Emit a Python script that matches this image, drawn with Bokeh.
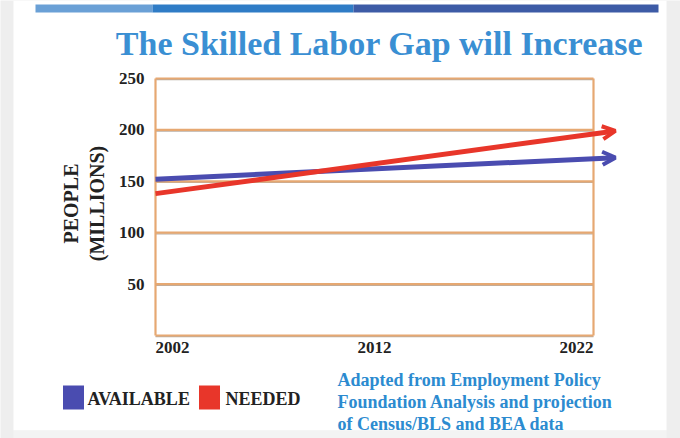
import math
from bokeh.plotting import figure
from bokeh.models import Range1d, Arrow, OpenHead
from bokeh.core.properties import value
from bokeh.embed import file_html
from bokeh.resources import INLINE

# ---------------- data ----------------
title = "The Skilled Labor Gap will Increase"
years = [2002, 2023]
available = [152, 173]
needed = [138, 199]
series_names = ["AVAILABLE", "NEEDED"]
x_ticks = [2002, 2012, 2022]
x_tick_labels = ["2002", "2012", "2022"]
y_ticks = [50, 100, 150, 200, 250]
y_tick_labels = ["50", "100", "150", "200", "250"]
y_min = 0
y_label = ["PEOPLE", "(MILLIONS)"]
note_lines = ["Adapted from Employment Policy",
              "Foundation Analysis and projection",
              "of Census/BLS and BEA data"]

# ---------------- layout helpers ----------------
W, H = 680, 438
FX0, FX1, FY0, FY1 = 155, 593, 78, 335  # pixel box of the chart body
sx = (x_ticks[-1] - x_ticks[0]) / (FX1 - FX0)
sy = (y_ticks[-1] - y_min) / (FY1 - FY0)


def px(x):
    return x_ticks[0] + (x - FX0) * sx


def py(y):
    return y_min + (FY1 - y) * sy


BLUE = "#4a4cb0"
RED = "#e8362a"
GRID = "#e6a872"
TITLE_C = "#3a8fd3"
NOTE_C = "#2c8bd0"
SERIF = value("Liberation Serif")

p = figure(width=W, height=H, x_range=Range1d(px(0), px(W)),
           y_range=Range1d(py(H), py(0)), output_backend="svg",
           toolbar_location=None, x_axis_location=None, y_axis_location=None,
           min_border=0)
p.grid.visible = False
p.outline_line_color = None
p.background_fill_color = "#eeeeee"
p.border_fill_color = "#eeeeee"

# slide
p.quad(left=[px(13)], right=[px(666)], top=[py(0)], bottom=[py(430)],
       fill_color="white", line_color=None)
p.quad(left=[px(13)], right=[px(666)], top=[py(430)], bottom=[py(438)],
       fill_color="#f3f3f3", line_color=None)
# top bar
p.quad(left=[px(35), px(152), px(353)], right=[px(152), px(353), px(658)],
       top=[py(4)] * 3, bottom=[py(12)] * 3,
       fill_color=["#6aa0d6", "#2f7cc6", "#3d5ba6"], line_color=None)

# title
p.text(x=[px(379)], y=[py(43)], text=[title], text_font=SERIF,
       text_font_style="bold", text_font_size="34px", text_color=TITLE_C,
       text_align="center", text_baseline="middle")

# grid box
x0, x1 = x_ticks[0], x_ticks[-1]
hy = [y_min] + y_ticks
p.segment(x0=[x0] * len(hy), x1=[x1] * len(hy), y0=[v - 1.2 * sy for v in hy],
          y1=[v - 1.2 * sy for v in hy], line_color="#b9aea4", line_width=1.2)
p.segment(x0=[x0] * len(hy), x1=[x1] * len(hy), y0=hy, y1=hy,
          line_color=GRID, line_width=2.2)
p.segment(x0=[x0, x1], x1=[x0, x1], y0=[y_min] * 2, y1=[y_ticks[-1]] * 2,
          line_color=GRID, line_width=2.2)

# tick labels
p.text(x=[px(FX0 - 11)] * len(y_ticks), y=y_ticks, text=y_tick_labels,
       text_font=SERIF, text_font_style="bold", text_font_size="17px",
       text_color="#222222", text_align="right", text_baseline="middle")
p.text(x=x_ticks, y=[py(347)] * len(x_ticks), text=x_tick_labels,
       text_font=SERIF, text_font_style="bold", text_font_size="17px",
       text_color="#222222", text_align=["left", "center", "right"],
       text_baseline="middle")

# axis title
p.text(x=[px(70), px(96)], y=[py(203)] * 2, text=y_label, angle=math.pi / 2,
       text_font=SERIF, text_font_style="bold", text_font_size="20px",
       text_color="#222222", text_align="center", text_baseline="middle")

# series
for vals, c in ((available, BLUE), (needed, RED)):
    p.add_layout(Arrow(end=OpenHead(size=13, line_width=4, line_color=c),
                       x_start=years[0], y_start=vals[0],
                       x_end=years[1], y_end=vals[1],
                       line_color=c, line_width=5))

# legend
p.rect(x=[px(73), px(209)], y=[py(397)] * 2, width=21, height=24,
       width_units="screen", height_units="screen",
       fill_color=[BLUE, RED], line_color=None)
p.text(x=[px(87), px(225)], y=[py(398)] * 2, text=series_names,
       text_font=SERIF, text_font_style="bold", text_font_size="18px",
       text_color="#222222", text_align="left", text_baseline="middle")

# source note
p.text(x=[px(337)] * 3, y=[py(379), py(401), py(423)], text=note_lines,
       text_font=SERIF, text_font_style="bold", text_font_size="18px",
       text_color=NOTE_C, text_align="left", text_baseline="middle")

open("out.html", "w").write(file_html(p, INLINE))
